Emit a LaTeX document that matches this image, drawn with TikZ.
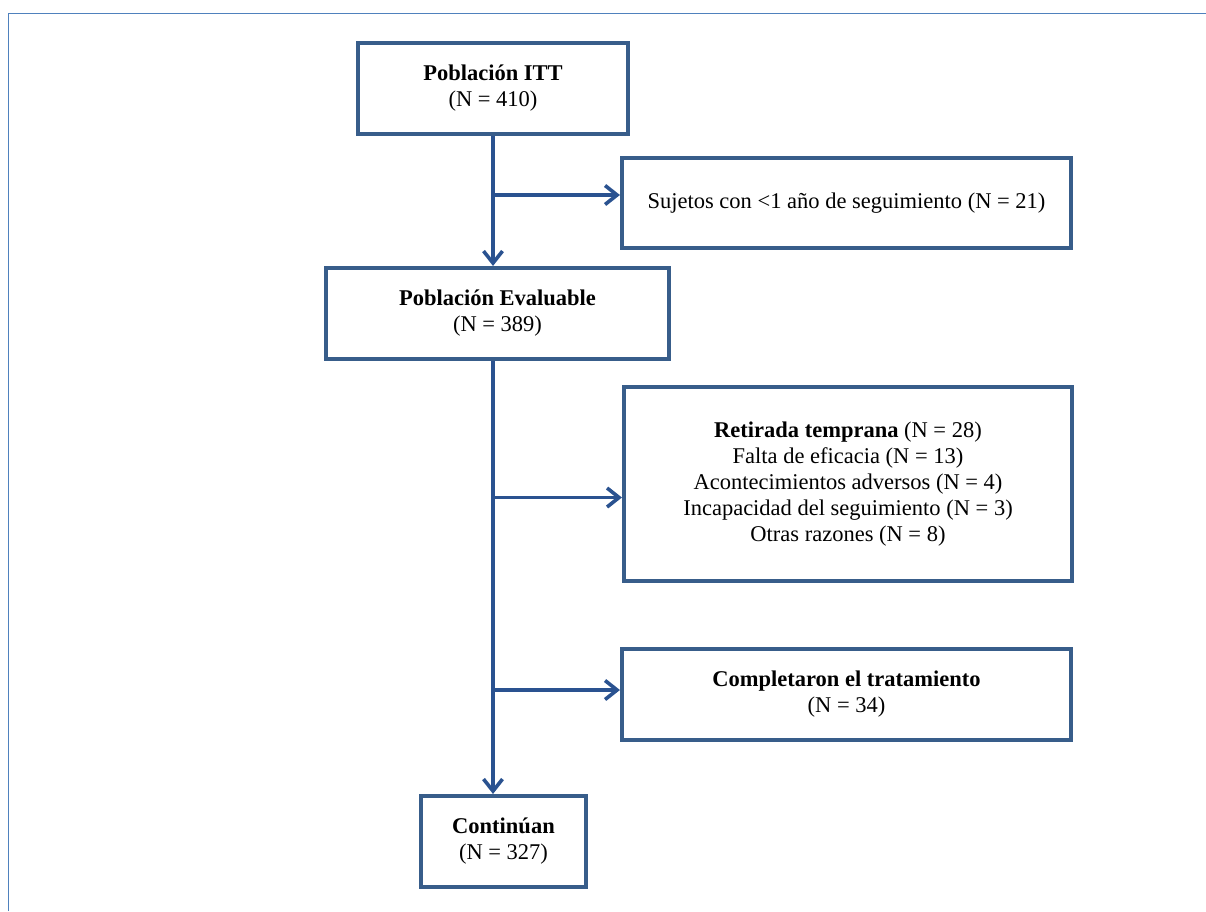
\documentclass[tikz,border=0pt]{standalone}
\usepackage{fontspec}
\setmainfont{Liberation Serif}
\usetikzlibrary{arrows.meta}
\definecolor{boxc}{HTML}{385D8A}
\definecolor{arrc}{HTML}{2A5290}
\definecolor{framec}{HTML}{4F81BD}
\tikzset{
  box/.style={draw=boxc, line width=3.6pt, fill=white, align=center, inner sep=0pt,
    font=\fontsize{22.5}{26}\selectfont},
  arr/.style={draw=arrc, line width=3.6pt, -{Straight Barb[length=12pt,width=19pt,line width=3.6pt]}},
  frameline/.style={draw=framec, line width=1.8pt}
}
\begin{document}
\begin{tikzpicture}[x=1pt,y=-1pt]
\useasboundingbox (0,0) rectangle (1206,911);
\coordinate (fTL) at (8.5,13.5);
\coordinate (fTR) at (1206,13.5);
\coordinate (fBL) at (8.5,911);
\draw[frameline] (fBL) -- (fTL) -- (fTR);

\node[box, minimum width=270.5pt, minimum height=91.5pt] (b1) at (493,88.5)
  {\textbf{Población ITT}\\(N = 410)};
\node[box, minimum width=449.5pt, minimum height=90.5pt] (b2) at (846.5,203)
  {Sujetos con <1 año de seguimiento (N = 21)};
\node[box, minimum width=343.5pt, minimum height=91.5pt] (b3) at (497.5,313.5)
  {\textbf{Población Evaluable}\\(N = 389)};
\node[box, minimum width=448.5pt, minimum height=194.5pt] (b4) at (848,484)
  {\textbf{Retirada temprana} (N = 28)\\Falta de eficacia (N = 13)\\Acontecimientos adversos (N = 4)\\Incapacidad del seguimiento (N = 3)\\Otras razones (N = 8)};
\node[box, minimum width=449.5pt, minimum height=91.5pt] (b5) at (846.5,694.5)
  {\textbf{Completaron el tratamiento}\\(N = 34)};
\node[box, minimum width=165.5pt, minimum height=91.5pt] (b6) at (503.5,841.5)
  {\textbf{Continúan}\\(N = 327)};

\coordinate (j1) at (493,195);
\coordinate (s3) at (493,361);
\coordinate (j2) at (493,497.5);
\coordinate (j3) at (493,690);

\draw[arr] (b1.south) -- (b1.south |- b3.north);
\draw[arr] (j1) -- (b2.west |- j1);
\draw[arr] (s3) -- (s3 |- b6.north);
\draw[arr] (j2) -- (b4.west |- j2);
\draw[arr] (j3) -- (b5.west |- j3);
\end{tikzpicture}
\end{document}
